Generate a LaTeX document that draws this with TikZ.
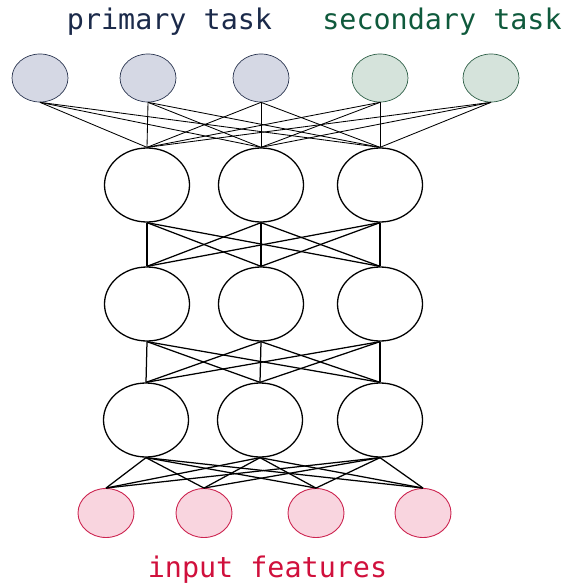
\documentclass[tikz,border=0pt]{standalone}
\usepackage{fontspec}
\newfontfamily\labelfont{DejaVu Sans Mono}
\usetikzlibrary{shapes.geometric}

\definecolor{primtext}{HTML}{1B2A4A}
\definecolor{primfill}{HTML}{D5D8E4}
\definecolor{primdraw}{HTML}{2A3550}
\definecolor{sectext}{HTML}{0F5A3C}
\definecolor{secfill}{HTML}{D5E3DB}
\definecolor{secdraw}{HTML}{2F6048}
\definecolor{intext}{HTML}{D0103C}
\definecolor{infill}{HTML}{F9D5DF}
\definecolor{indraw}{HTML}{CC2450}

\tikzset{
  unit/.style={ellipse, inner sep=0pt, line width=0.9pt},
  outprim/.style={unit, draw=primdraw, fill=primfill, minimum width=56pt, minimum height=48pt, line width=0.7pt},
  outsec/.style={unit, draw=secdraw, fill=secfill, minimum width=56pt, minimum height=48pt, line width=0.7pt},
  hidden/.style={unit, draw=black, fill=white, minimum width=85pt, minimum height=74pt, line width=1.3pt},
  inunit/.style={unit, draw=indraw, fill=infill, minimum width=56pt, minimum height=49pt, line width=0.9pt},
  thinlink/.style={draw=black, line width=0.85pt},
  link/.style={draw=black, line width=1.25pt},
  tasklabel/.style={font=\labelfont\fontsize{28.4}{34}\selectfont, anchor=base, inner sep=0pt},
}

\begin{document}
\begin{tikzpicture}[x=1pt, y=-1pt]
\useasboundingbox (0,0) rectangle (565,583);

% output units
\node[outprim] (o1) at (40,78) {};
\node[outprim] (o2) at (148,78) {};
\node[outprim] (o3) at (261,78) {};
\node[outsec]  (o4) at (380,78) {};
\node[outsec]  (o5) at (491,78) {};

% hidden layers
\node[hidden] (a1) at (147,185) {};
\node[hidden] (a2) at (261,185) {};
\node[hidden] (a3) at (380,185) {};

\node[hidden] (b1) at (147,304) {};
\node[hidden] (b2) at (261,304) {};
\node[hidden] (b3) at (380,304) {};

\node[hidden] (c1) at (146,420) {};
\node[hidden] (c2) at (260,420) {};
\node[hidden] (c3) at (380,420) {};

% input units
\node[inunit] (i1) at (106,513) {};
\node[inunit] (i2) at (204,513) {};
\node[inunit] (i3) at (316,513) {};
\node[inunit] (i4) at (423,513) {};

% full connections between consecutive layers
\foreach \o in {o1,o2,o3,o4,o5}
  \foreach \a in {a1,a2,a3}
    \draw[thinlink] (\o.south) -- (\a.north);
\foreach \a in {a1,a2,a3}
  \foreach \b in {b1,b2,b3}
    \draw[link] (\a.south) -- (\b.north);
\foreach \b in {b1,b2,b3}
  \foreach \c in {c1,c2,c3}
    \draw[link] (\b.south) -- (\c.north);
\foreach \c in {c1,c2,c3}
  \foreach \i in {i1,i2,i3,i4}
    \draw[link] (\c.south) -- (\i.north);

% labels
\node[tasklabel, text=primtext] (lp) at (169.5,30) {primary task};
\node[tasklabel, text=sectext] (ls) at (442,30) {secondary task};
\node[tasklabel, text=intext] (li) at (267.5,577) {input features};
\end{tikzpicture}
\end{document}
